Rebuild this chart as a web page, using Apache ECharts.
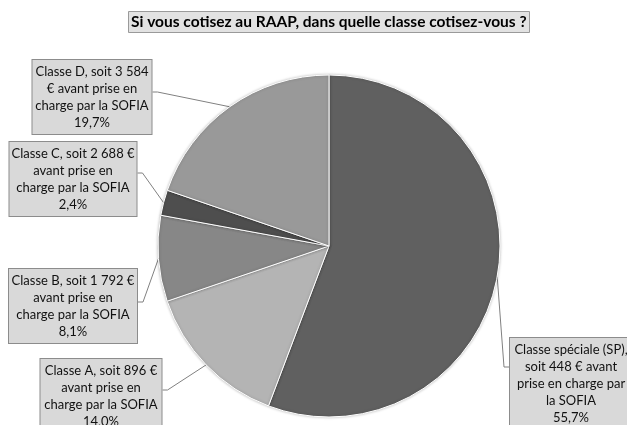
<!DOCTYPE html>
<html>
<head>
<meta charset="utf-8">
<script src="https://cdn.jsdelivr.net/npm/echarts@6/dist/echarts.min.js"></script>
<style>
  html, body { margin: 0; padding: 0; background: #fff; }
  #main { width: 627px; height: 425px; }
</style>
</head>
<body>
<div id="main"></div>
<script>
// slices, clockwise from 12 o'clock
const categories = ['Classe spéciale (SP)', 'Classe A', 'Classe B', 'Classe C', 'Classe D'];
const labelTexts = [
  'Classe spéciale (SP),\nsoit 448 € avant\nprise en charge par\nla SOFIA',
  'Classe A, soit 896 €\navant prise en\ncharge par la SOFIA',
  'Classe B, soit 1 792 €\navant prise en\ncharge par la SOFIA',
  'Classe C, soit 2 688 €\navant prise en\ncharge par la SOFIA',
  'Classe D, soit 3 584\n€ avant prise en\ncharge par la SOFIA'
];
const shares = [55.7, 14.0, 8.1, 2.4, 19.7];
const colors = ['#606060', '#b4b4b4', '#878787', '#4e4e4e', '#999999'];

// label boxes: center x, top, width, y where the leader joins, side of the pie
const boxes = [
  { cx: 571, top: 338, w: 124, lineY: 367, side: 'right' },
  { cx: 101, top: 359, w: 123, lineY: 390, side: 'left' },
  { cx: 73, top: 269, w: 130, lineY: 302, side: 'left' },
  { cx: 73, top: 142, w: 129, lineY: 173, side: 'left' },
  { cx: 92, top: 60, w: 121, lineY: 92, side: 'left' }
];

var chart = echarts.init(document.getElementById('main'));

var option = {
  animation: false,
  title: {
    text: 'Si vous cotisez au RAAP, dans quelle classe cotisez-vous ?',
    left: 128,
    top: 11,
    padding: [3, 3, 3, 3],
    backgroundColor: '#e2e2e2',
    borderColor: '#9a9a9a',
    borderWidth: 1,
    textStyle: {
      fontFamily: 'Lato',
      fontSize: 15.5,
      fontWeight: 'bold',
      color: '#000'
    }
  },
  series: [{
    type: 'pie',
    center: [329, 246],
    radius: 171,
    startAngle: 90,
    clockwise: true,
    avoidLabelOverlap: false,
    itemStyle: {
      borderColor: '#fff',
      borderWidth: 1,
      shadowColor: 'rgba(0,0,0,0.25)',
      shadowBlur: 3
    },
    label: {
      show: true,
      position: 'outside',
      fontFamily: 'Lato',
      fontSize: 13,
      lineHeight: 17,
      color: '#111',
      backgroundColor: '#d9d9d9',
      borderColor: '#8c8c8c',
      borderWidth: 1,
      padding: [3, 4, 3, 4],
      align: 'center',
      overflow: 'none',
      formatter: function (p) {
        return labelTexts[p.dataIndex] + '\n' + shares[p.dataIndex].toFixed(1).replace('.', ',') + '%';
      }
    },
    labelLine: {
      show: true,
      length: 10,
      length2: 10,
      lineStyle: { color: '#808080', width: 1 }
    },
    labelLayout: function (p) {
      const b = boxes[p.dataIndex];
      const edgeX = b.side === 'left' ? b.cx + b.w / 2 : b.cx - b.w / 2;
      const out = b.side === 'left' ? 5 : -5;
      const res = { x: b.cx, y: b.top, align: 'center', verticalAlign: 'top' };
      if (p.labelLinePoints) {
        res.labelLinePoints = [p.labelLinePoints[0], [edgeX + out, b.lineY], [edgeX, b.lineY]];
      }
      return res;
    },
    data: categories.map(function (name, i) {
      return {
        name: name,
        value: shares[i],
        itemStyle: { color: colors[i] },
        label: { width: boxes[i].w - 10 }
      };
    })
  }]
};

option && chart.setOption(option);
</script>
</body>
</html>
